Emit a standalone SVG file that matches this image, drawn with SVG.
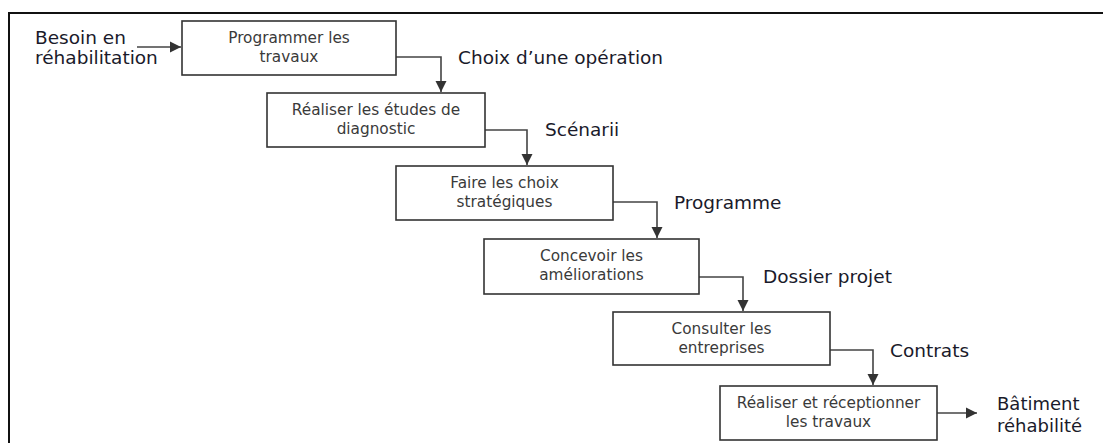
<svg xmlns="http://www.w3.org/2000/svg" width="1103" height="443" viewBox="0 0 1103 443">
<style>
.frame{fill:none;stroke:#111;stroke-width:2}
.box{fill:#fff;stroke:#333;stroke-width:1.6}
.bt{font-family:"DejaVu Sans",Verdana,sans-serif;font-size:15.3px;fill:#3a3a3a;text-anchor:middle}
.lb{font-family:"DejaVu Sans",Verdana,sans-serif;font-size:18.5px;fill:#1a1a2a}
.con{fill:none;stroke:#444;stroke-width:1.6}
</style>
<defs>
<marker id="ah" markerUnits="userSpaceOnUse" markerWidth="12" markerHeight="12" viewBox="0 0 12 12" refX="11" refY="6" orient="auto">
<path d="M0,0.5 L11,6 L0,11.5 Z" fill="#333"/>
</marker>
</defs>
<rect class="frame" x="9" y="13" width="1200" height="500"/>
<g id="connectors">
<line class="con" x1="137" y1="47" x2="181" y2="47" marker-end="url(#ah)"/>
<polyline class="con" points="396,57 441,57 441,92" marker-end="url(#ah)"/>
<polyline class="con" points="485,130 527,130 527,165" marker-end="url(#ah)"/>
<polyline class="con" points="613,202 657,202 657,238" marker-end="url(#ah)"/>
<polyline class="con" points="699,277 743,277 743,311" marker-end="url(#ah)"/>
<polyline class="con" points="830,350 873,350 873,385" marker-end="url(#ah)"/>
<line class="con" x1="937" y1="413" x2="977" y2="413" marker-end="url(#ah)"/>
</g>
<g id="labels">
<text class="lb" x="35" y="44">Besoin en</text>
<text class="lb" x="35" y="64">réhabilitation</text>
<text class="lb" x="458" y="64">Choix d’une opération</text>
<text class="lb" x="545" y="136">Scénarii</text>
<text class="lb" x="674" y="209">Programme</text>
<text class="lb" x="763" y="283">Dossier projet</text>
<text class="lb" x="890" y="357">Contrats</text>
<text class="lb" x="997" y="410" style="font-size:18px">Bâtiment</text>
<text class="lb" x="997" y="432" style="font-size:18px">réhabilité</text>
</g>
<g id="n1">
<rect class="box" x="182" y="21" width="214" height="54"/>
<text class="bt" x="289" y="43">Programmer les</text>
<text class="bt" x="289" y="62">travaux</text>
</g>
<g id="n2">
<rect class="box" x="267" y="93" width="218" height="54"/>
<text class="bt" x="376" y="115">Réaliser les études de</text>
<text class="bt" x="376" y="134">diagnostic</text>
</g>
<g id="n3">
<rect class="box" x="396" y="166" width="217" height="54"/>
<text class="bt" x="504.5" y="188">Faire les choix</text>
<text class="bt" x="504.5" y="207">stratégiques</text>
</g>
<g id="n4">
<rect class="box" x="484" y="239" width="215" height="55"/>
<text class="bt" x="591.5" y="261">Concevoir les</text>
<text class="bt" x="591.5" y="280">améliorations</text>
</g>
<g id="n5">
<rect class="box" x="613" y="312" width="217" height="53"/>
<text class="bt" x="721.5" y="334">Consulter les</text>
<text class="bt" x="721.5" y="353">entreprises</text>
</g>
<g id="n6">
<rect class="box" x="720" y="386" width="217" height="54"/>
<text class="bt" x="828.5" y="408">Réaliser et réceptionner</text>
<text class="bt" x="828.5" y="427">les travaux</text>
</g>
</svg>
